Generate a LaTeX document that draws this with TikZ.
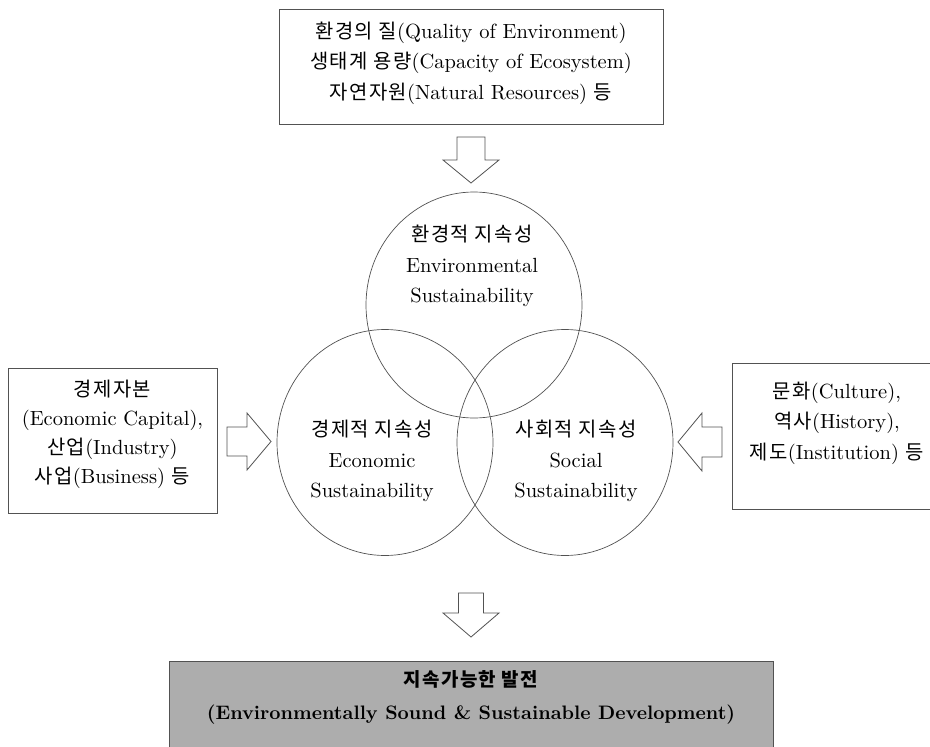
\documentclass[tikz,border=0pt]{standalone}
\usepackage{fontspec}
\setmainfont{lmroman10-regular.otf}[BoldFont=lmroman10-bold.otf]
\newfontfamily\kr{Noto Sans CJK KR}[LetterSpace=7,Scale=0.97]
\usetikzlibrary{shapes.geometric}
\definecolor{ln}{gray}{0.32}
\definecolor{boxgray}{gray}{0.68}
\begin{document}
\begin{tikzpicture}[x=1pt,y=-1pt,
  frame/.style={draw=ln, line width=0.8pt, fill=white, inner sep=0pt},
  txt/.style={align=center, inner sep=0pt, font=\fontsize{20.5}{30.5}\selectfont},
  venn/.style={draw=ln, line width=0.7pt, ellipse, minimum width=216pt, minimum height=226pt, inner sep=0pt},
  blockarrow/.style={draw=ln, line width=0.8pt, fill=white, line join=miter}]
\useasboundingbox (0,0) rectangle (930,747);

% top box
\node[frame, minimum width=384pt, minimum height=115pt] (topbox) at (471,66.5) {};
\node[txt] (toptext) at (471,63) {{\kr 환경의 질}(Quality of Environment)\\{\kr 생태계 용량}(Capacity of Ecosystem)\\{\kr 자연자원}(Natural Resources) {\kr 등}};

% left box
\node[frame, minimum width=209pt, minimum height=145pt] (leftbox) at (112.5,440.5) {};
\node[txt, font=\fontsize{20.5}{29}\selectfont] (lefttext) at (112.5,434) {{\kr 경제자본}\\(Economic Capital),\\{\kr 산업}(Industry)\\{\kr 사업}(Business) {\kr 등}};

% right box
\node[frame, minimum width=210pt, minimum height=146pt] (rightbox) at (837,436) {};
\node[txt] (righttext) at (837,423) {{\kr 문화}(Culture),\\{\kr 역사}(History),\\{\kr 제도}(Institution) {\kr 등}};

% venn circles
\node[venn] (env) at (474,305) {};
\node[venn] (eco) at (385,442.5) {};
\node[venn] (soc) at (565,442.5) {};
\node[txt] (envtext) at (472,266) {{\kr 환경적 지속성}\\Environmental\\Sustainability};
\node[txt] (ecotext) at (372,461) {{\kr 경제적 지속성}\\Economic\\Sustainability};
\node[txt] (soctext) at (576,461) {{\kr 사회적 지속성}\\Social\\Sustainability};

% bottom box
\node[frame, fill=boxgray, minimum width=604pt, minimum height=110pt] (botbox) at (471,716) {};
\node[txt, font=\fontsize{19.5}{33}\selectfont\bfseries] (bottext) at (471,697) {{\kr 지속가능한 발전}\\(Environmentally Sound \& Sustainable Development)};

% block arrows
\coordinate (topar) at (471,137);
\draw[blockarrow] (topar) ++(-14,0) -- ++(28,0) -- ++(0,23) -- ++(14,0) -- ++(-28,23) -- ++(-28,-23) -- ++(14,0) -- cycle;
\coordinate (botar) at (471,593);
\draw[blockarrow] (botar) ++(-12.5,0) -- ++(25,0) -- ++(0,20) -- ++(15.5,0) -- ++(-28,24) -- ++(-28,-24) -- ++(15.5,0) -- cycle;
\coordinate (leftar) at (227,441.5);
\draw[blockarrow] (leftar) ++(0,-14.5) -- ++(20,0) -- ++(0,-14) -- ++(24,28.5) -- ++(-24,28.5) -- ++(0,-14) -- ++(-20,0) -- cycle;
\coordinate (rightar) at (722,442);
\draw[blockarrow] (rightar) ++(0,-15) -- ++(-20,0) -- ++(0,-14) -- ++(-24,29) -- ++(24,29) -- ++(0,-14) -- ++(20,0) -- cycle;
\end{tikzpicture}
\end{document}
